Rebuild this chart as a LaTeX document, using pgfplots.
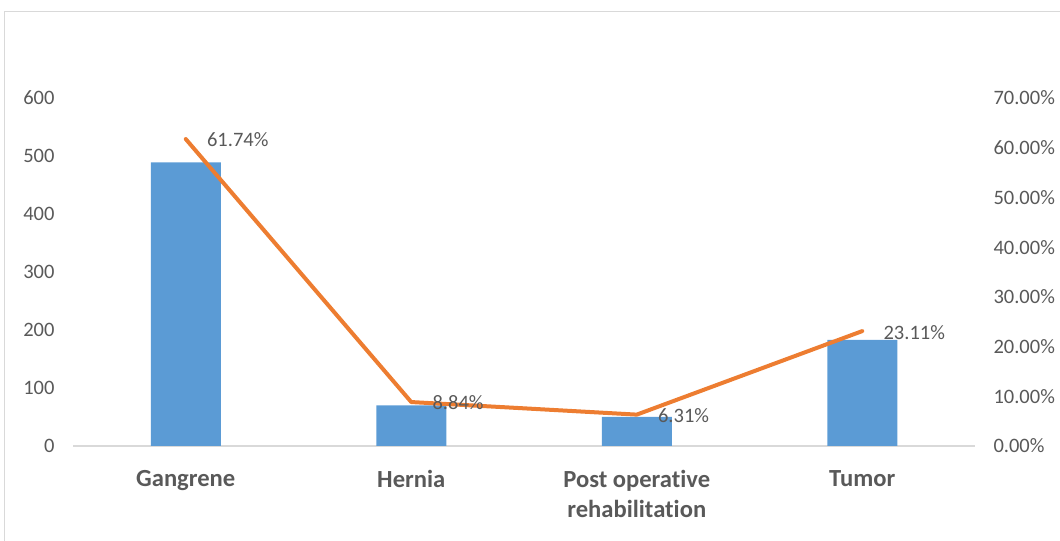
\documentclass[border=0pt]{standalone}
\usepackage{fontspec}
\setmainfont{Carlito}[Ligatures=NoCommon]
\usepackage{pgfplots}
\pgfplotsset{compat=1.18}
\definecolor{barblue}{HTML}{5B9BD5}
\definecolor{lineorange}{HTML}{ED7D31}
\definecolor{txtgray}{HTML}{595959}
\definecolor{framegray}{HTML}{D9D9D9}
\begin{document}
\begin{tikzpicture}[x=1bp,y=1bp]
\useasboundingbox (0,0) rectangle (1060,541);
\draw[framegray, line width=1bp] (4,-10) rectangle (1075,529);
\begin{axis}[
  at={(73bp,95bp)}, anchor=south west,
  scale only axis, width=902bp, height=348bp,
  xmin=-0.5, xmax=3.5, ymin=0, ymax=600,
  ytick={0,100,...,600},
  xtick={0,1,2,3},
  xticklabels={Gangrene,Hernia,{Post operative\\rehabilitation},Tumor},
  xticklabel style={align=center, font=\fontsize{24.6bp}{30bp}\selectfont\bfseries, text=txtgray, yshift=-21bp},
  yticklabel style={font=\fontsize{20.5bp}{24bp}\selectfont, text=txtgray, xshift=-15bp},
  /pgf/number format/assume math mode=true,
  axis x line*=bottom, axis y line*=left,
  x axis line style={framegray, line width=1.5bp, -},
  y axis line style={draw=none},
  major tick length=0pt,
  ytick style={draw=none}, xtick style={draw=none},
  ybar, bar width=70bp,
  clip=false,
]
\addplot[fill=barblue, draw=none] coordinates {(0,489) (1,70) (2,50) (3,183)};
\end{axis}
\begin{axis}[
  at={(73bp,95bp)}, anchor=south west,
  scale only axis, width=902bp, height=348bp,
  xmin=-0.5, xmax=3.5, ymin=0, ymax=70,
  ytick={0,10,...,70},
  yticklabels={0.00\%,10.00\%,20.00\%,30.00\%,40.00\%,50.00\%,60.00\%,70.00\%},
  yticklabel style={font=\fontsize{20.5bp}{24bp}\selectfont, text=txtgray, xshift=15bp},
  axis y line*=right, axis x line=none,
  y axis line style={draw=none},
  major tick length=0pt, ytick style={draw=none},
  xtick=\empty,
  clip=false,
]
\addplot[lineorange, line width=4bp, line cap=round, line join=round,
  nodes near coords, point meta=explicit symbolic,
  every node near coord/.append style={anchor=west, xshift=16bp, yshift=-1bp, text=txtgray, font=\fontsize{20.5bp}{24bp}\selectfont}]
  coordinates {(0,61.74) [61.74\%] (1,8.84) [8.84\%] (2,6.31) [6.31\%] (3,23.11) [23.11\%]};
\end{axis}
\end{tikzpicture}
\end{document}
